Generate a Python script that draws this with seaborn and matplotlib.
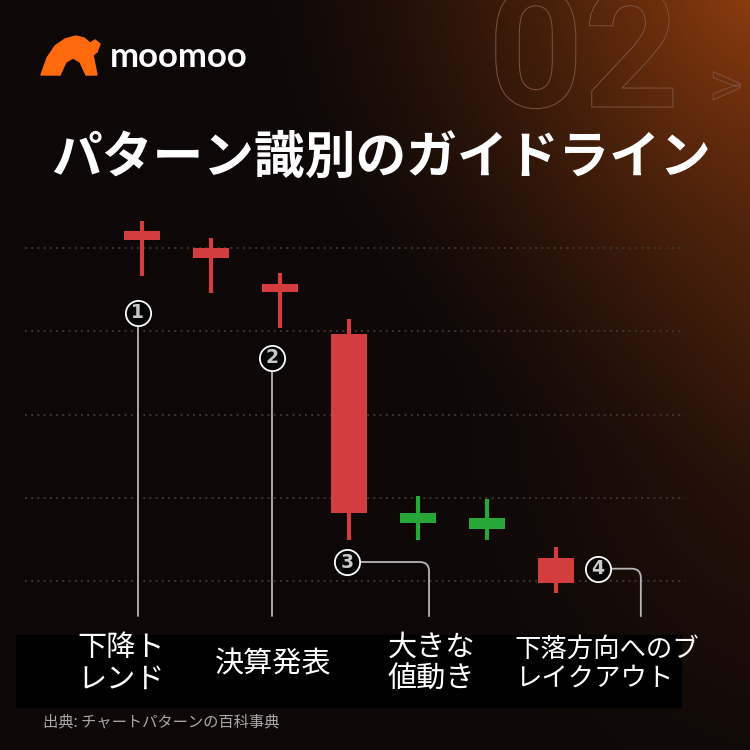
import numpy as np
import pandas as pd
import matplotlib
matplotlib.use("Agg")
import matplotlib.pyplot as plt
import matplotlib.patheffects as pe
from matplotlib.patches import Polygon, Rectangle, FancyArrowPatch
import seaborn as sns

# ---- data (prices, grid lines at 10..50) ----
opens = [52.0, 50.0, 45.7, 39.7, 17.0, 16.3, 12.8]
closes = [51.0, 48.8, 44.7, 18.2, 18.2, 17.6, 9.8]
highs = [53.2, 51.2, 47.0, 41.5, 20.2, 19.9, 14.1]
lows = [46.6, 44.6, 40.4, 15.0, 15.0, 15.0, 8.6]
grid_levels = [10, 20, 30, 40, 50]

marker_nums = ["1", "2", "3", "4"]
marker_x = [-0.06, 1.88, 2.97, 6.61]
marker_y = [42.2, 36.8, 12.3, 11.5]
marker_end_x = [-0.06, 1.88, 4.16, 7.23]
marker_end_y = 5.8

labels = ["下降ト\nレンド", "決算発表", "大きな\n値動き", "下落方向へのブ\nレイクアウト"]
label_x = [121, 273, 431, 607]
label_size = [21, 21, 21, 19]

title = "パターン識別のガイドライン"
source = "出典: チャートパターンの百科事典"

df = pd.DataFrame({"open": opens, "close": closes, "high": highs, "low": lows})
df["idx"] = np.arange(len(df))
df["up"] = df["close"] > df["open"]

RED = "#d43d3d"
GREEN = "#27a737"
CJK = ["Noto Sans CJK JP", "DejaVu Sans"]

sns.set_theme(style="dark")
plt.rcParams["font.family"] = CJK

W = H = 750
fig = plt.figure(figsize=(7.5, 7.5), dpi=100)

# ---- background gradient ----
bg = fig.add_axes([0, 0, 1, 1])
yy, xx = np.mgrid[0:H, 0:W]
base = np.array([13, 8, 7], dtype=float)
d1 = np.hypot(xx - 790, yy + 60) / 560.0
g1 = np.clip(1 - d1, 0, 1) ** 1.6
d2 = np.hypot((xx - 800) / 1.0, (yy - 380) / 1.3) / 420.0
g2 = np.clip(1 - d2, 0, 1) ** 1.8
img = base + g1[..., None] * np.array([150, 62, 8]) + g2[..., None] * np.array([40, 16, 3])
img = np.clip(img, 0, 255) / 255.0
bg.imshow(img, extent=[0, W, H, 0], aspect="auto")
bg.set_xlim(0, W)
bg.set_ylim(H, 0)
bg.axis("off")

# ---- candlestick chart ----
ax = fig.add_axes([25 / W, (H - 620) / H, 660 / W, 420 / H])
ax.set_facecolor("none")
ax.set_xlim(-1.696, 7.87)
ax.set_ylim(5.34, 55.76)
for lv in grid_levels:
    ax.axhline(lv, color="#3d3532", lw=1.4, ls=(0, (1, 2.2)), zorder=1)

colors = np.where(df["up"], GREEN, RED)
ax.vlines(df["idx"], df["low"], df["high"], colors=colors, lw=3.0, zorder=2)
body_lo = df[["open", "close"]].min(axis=1)
body_hi = df[["open", "close"]].max(axis=1)
ax.bar(df["idx"], body_hi - body_lo, bottom=body_lo, width=0.52, color=colors,
       edgecolor="none", zorder=3)

# numbered markers and connectors
for nx, ny, ex in zip(marker_x, marker_y, marker_end_x):
    if abs(ex - nx) < 0.01:
        ax.plot([nx, nx], [ny, marker_end_y], color="#b5b5b5", lw=1.3,
                zorder=2, clip_on=False)
    else:
        con = FancyArrowPatch((nx, ny), (ex, marker_end_y), arrowstyle="-",
                              connectionstyle="angle,angleA=0,angleB=90,rad=9",
                              color="#b5b5b5", lw=1.3, shrinkA=0, shrinkB=0,
                              zorder=2, clip_on=False)
        ax.add_patch(con)
sns.scatterplot(x=marker_x, y=marker_y, ax=ax, s=330, color="#050505",
                edgecolor="white", linewidth=1.3, zorder=4, clip_on=False,
                legend=False)
for num, nx, ny in zip(marker_nums, marker_x, marker_y):
    ax.text(nx, ny, num, ha="center", va="center", fontsize=13.5,
            fontweight="bold", color="#c9c9c9", family="DejaVu Sans", zorder=5)
ax.set_xticks([])
ax.set_yticks([])
for s in ax.spines.values():
    s.set_visible(False)

# ---- overlay (pixel coordinates) ----
ov = fig.add_axes([0, 0, 1, 1])
ov.set_xlim(0, W)
ov.set_ylim(H, 0)
ov.axis("off")
ov.patch.set_alpha(0)

# big outlined "02>" (cropped at the top edge, as in the original design)
ov.text(488, 107, "02", fontsize=120, family="Roboto", fontweight="bold",
        color="none", ha="left", va="baseline",
        path_effects=[pe.Stroke(linewidth=0.7, foreground="#7d5240")])
ov.text(709, 106, ">", fontsize=46, family="Roboto", color="none",
        ha="left", va="baseline",
        path_effects=[pe.Stroke(linewidth=0.7, foreground="#7d5240")])

# logo
bull = [(41, 75), (47, 58), (55, 46), (65, 39), (76, 36), (84, 38), (90, 43),
        (95, 40), (100, 44), (97, 52), (93, 55), (97, 75), (86, 75), (80, 62),
        (73, 58), (66, 62), (60, 75)]
ov.add_patch(Polygon(bull, closed=True, color="#ff6a0d", zorder=3))
ov.text(110, 57, "moomoo", fontsize=25, fontweight="bold", family="Lato",
        color="white", ha="left", va="center")

# title
ov.text(381, 158, title, fontsize=36.5, fontweight="bold", color="white",
        ha="center", va="center")

# label band
ov.add_patch(Rectangle((16, 635), 665, 72, color="black", zorder=2))
for lab, lx, fs in zip(labels, label_x, label_size):
    ov.text(lx, 664, lab, fontsize=fs, color="white", ha="center",
            va="center", ma="left", linespacing=1.08, zorder=3)

ov.text(43, 722, source, fontsize=11, color="#a8a8a8", ha="left", va="center")

fig.savefig("out.png", dpi=100)
